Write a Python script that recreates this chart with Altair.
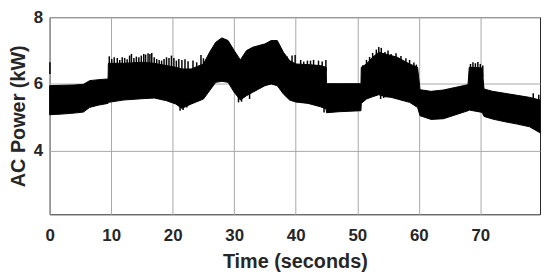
import altair as alt
import pandas as pd

# Envelope of the dense AC power signal
env_t = [0.0, 2.0, 4.0, 5.5, 6.5, 8.0, 9.5, 9.55, 12.0, 15.0, 17.0, 19.0, 20.5, 21.5,
         23.0, 25.0, 26.0, 27.0, 28.0, 29.0, 30.0, 31.0, 32.0, 33.0, 34.0, 35.0, 36.0,
         37.0, 38.0, 39.0, 40.0, 42.0, 44.0, 44.95, 45.0, 47.0, 50.6, 50.65, 51.5, 52.5,
         53.5, 54.5, 55.5, 56.5, 57.5, 58.5, 59.8, 60.2, 62.0, 64.0, 66.0, 68.0, 68.2,
         70.3, 70.6, 72.0, 74.0, 76.0, 78.0, 79.7]
env_top = [5.95, 5.96, 5.97, 5.99, 6.1, 6.13, 6.15, 6.62, 6.62, 6.65, 6.62, 6.55, 6.5, 6.45,
           6.45, 6.6, 6.95, 7.25, 7.38, 7.3, 7.0, 6.72, 7.0, 7.1, 7.15, 7.2, 7.3,
           7.3, 6.95, 6.7, 6.6, 6.58, 6.55, 6.5, 6.01, 6.01, 6.01, 6.5, 6.6, 6.8,
           6.95, 6.9, 6.85, 6.8, 6.7, 6.6, 6.5, 5.83, 5.78, 5.82, 5.9, 5.98, 6.5,
           6.48, 5.85, 5.78, 5.72, 5.66, 5.6, 5.52]
env_bot = [5.08, 5.1, 5.13, 5.16, 5.3, 5.37, 5.42, 5.45, 5.52, 5.56, 5.58, 5.5, 5.4, 5.27,
           5.4, 5.55, 5.8, 6.05, 6.08, 6.05, 5.75, 5.52, 5.65, 5.75, 5.85, 5.95, 6.0,
           5.95, 5.7, 5.52, 5.46, 5.42, 5.32, 5.25, 5.14, 5.17, 5.2, 5.42, 5.55, 5.62,
           5.68, 5.62, 5.6, 5.55, 5.5, 5.45, 5.3, 5.05, 4.94, 4.96, 5.08, 5.2, 5.22,
           5.15, 5.03, 4.95, 4.87, 4.8, 4.72, 4.54]

# Visible spikes above the band
spike_t = [0.05, 9.7, 10.1, 10.5, 11.0, 11.4, 11.8, 12.2, 12.6, 13.0, 13.3, 13.7, 14.1,
           14.5, 14.9, 15.3, 15.6, 16.0, 16.3, 16.6, 17.0, 17.4, 17.8, 18.2, 18.6, 19.0,
           19.4, 19.8, 20.2, 20.6, 21.0, 21.5, 22.0, 22.5, 23.3, 23.9, 24.6, 25.0,
           38.6, 39.4, 39.9, 40.8, 41.3, 41.9, 42.4, 42.9, 43.7, 44.3, 44.9,
           50.9, 51.5, 52.0, 52.5, 53.1, 53.5, 53.9, 54.5, 55.0, 55.5, 56.3, 57.1, 57.9,
           58.5, 59.2, 59.6, 68.4, 68.8, 69.2, 69.6, 70.0, 70.4, 78.6, 79.5]
spike_v = [6.65, 6.83, 6.75, 6.8, 6.78, 6.72, 6.8, 6.78, 6.74, 6.85, 6.9, 6.78, 6.82,
           6.8, 6.85, 6.9, 6.88, 6.92, 6.9, 6.93, 6.8, 6.75, 6.72, 6.7, 6.75, 6.8,
           6.78, 6.85, 6.78, 6.7, 6.75, 6.72, 6.74, 6.68, 6.7, 6.65, 6.87, 6.77,
           6.82, 6.85, 6.87, 6.72, 6.67, 6.7, 6.7, 6.72, 6.7, 6.67, 6.72,
           6.56, 6.72, 6.81, 6.93, 7.03, 7.11, 7.08, 6.96, 7.0, 6.9, 6.92, 6.84, 6.77,
           6.72, 6.64, 6.58, 6.6, 6.65, 6.62, 6.66, 6.6, 6.55, 5.72, 5.68]

# Visible dips below the band
dip_t = [21.2, 21.7, 22.3, 30.7, 31.2, 32.5, 44.6, 53.8, 54.3]
dip_v = [5.2, 5.22, 5.3, 5.45, 5.47, 5.55, 5.15, 5.55, 5.58]

x_ticks = [0, 10, 20, 30, 40, 50, 60, 70]
y_ticks = [4, 6, 8]

env = pd.DataFrame({"t": env_t, "top": env_top, "bot": env_bot})
spk = pd.DataFrame({"t": spike_t, "v": spike_v})
dip = pd.DataFrame({"t": dip_t, "v": dip_v})

FONT = "Liberation Sans"
TXT = "#262626"

xscale = alt.Scale(domain=[0, 79.7], nice=False, zero=False)
yscale = alt.Scale(domain=[2.1, 8], nice=False, zero=False)

xaxis = alt.Axis(values=x_ticks, title="Time (seconds)", grid=True, ticks=False, domain=False,
                 labelFlush=False, labelPadding=13, titlePadding=9)
yaxis = alt.Axis(values=y_ticks, title="AC Power (kW)", grid=True, ticks=False, domain=False,
                 labelPadding=7, titlePadding=5)

band = alt.Chart(env).mark_area(color="black", stroke="black", strokeWidth=1).encode(
    x=alt.X("t:Q", scale=xscale, axis=xaxis),
    y=alt.Y("top:Q", scale=yscale, axis=yaxis),
    y2="bot:Q",
)

spikes = alt.Chart(spk).transform_calculate(base="datum.v - 0.35").mark_rule(
    color="black", strokeWidth=1.5
).encode(
    x=alt.X("t:Q", scale=xscale),
    y=alt.Y("v:Q", scale=yscale),
    y2="base:Q",
)

dips = alt.Chart(dip).transform_calculate(base="datum.v + 0.3").mark_rule(
    color="black", strokeWidth=1.5
).encode(
    x=alt.X("t:Q", scale=xscale),
    y=alt.Y("v:Q", scale=yscale),
    y2="base:Q",
)

chart = (
    alt.layer(band, spikes, dips)
    .properties(
        width=495,
        height=199,
        autosize=alt.AutoSizeParams(type="none"),
        padding={"left": 42, "top": 8, "right": 2, "bottom": 60},
    )
    .configure_view(stroke=TXT, strokeWidth=1)
    .configure_axis(
        gridColor="#a8a8a8",
        gridWidth=1,
        gridOpacity=1,
        labelFont=FONT,
        labelFontSize=17,
        labelFontWeight="bold",
        labelColor=TXT,
        titleFont=FONT,
        titleFontSize=20,
        titleFontWeight="bold",
        titleColor=TXT,
    )
)

chart.save("out.html", embed_options={"renderer": "svg", "actions": False})
